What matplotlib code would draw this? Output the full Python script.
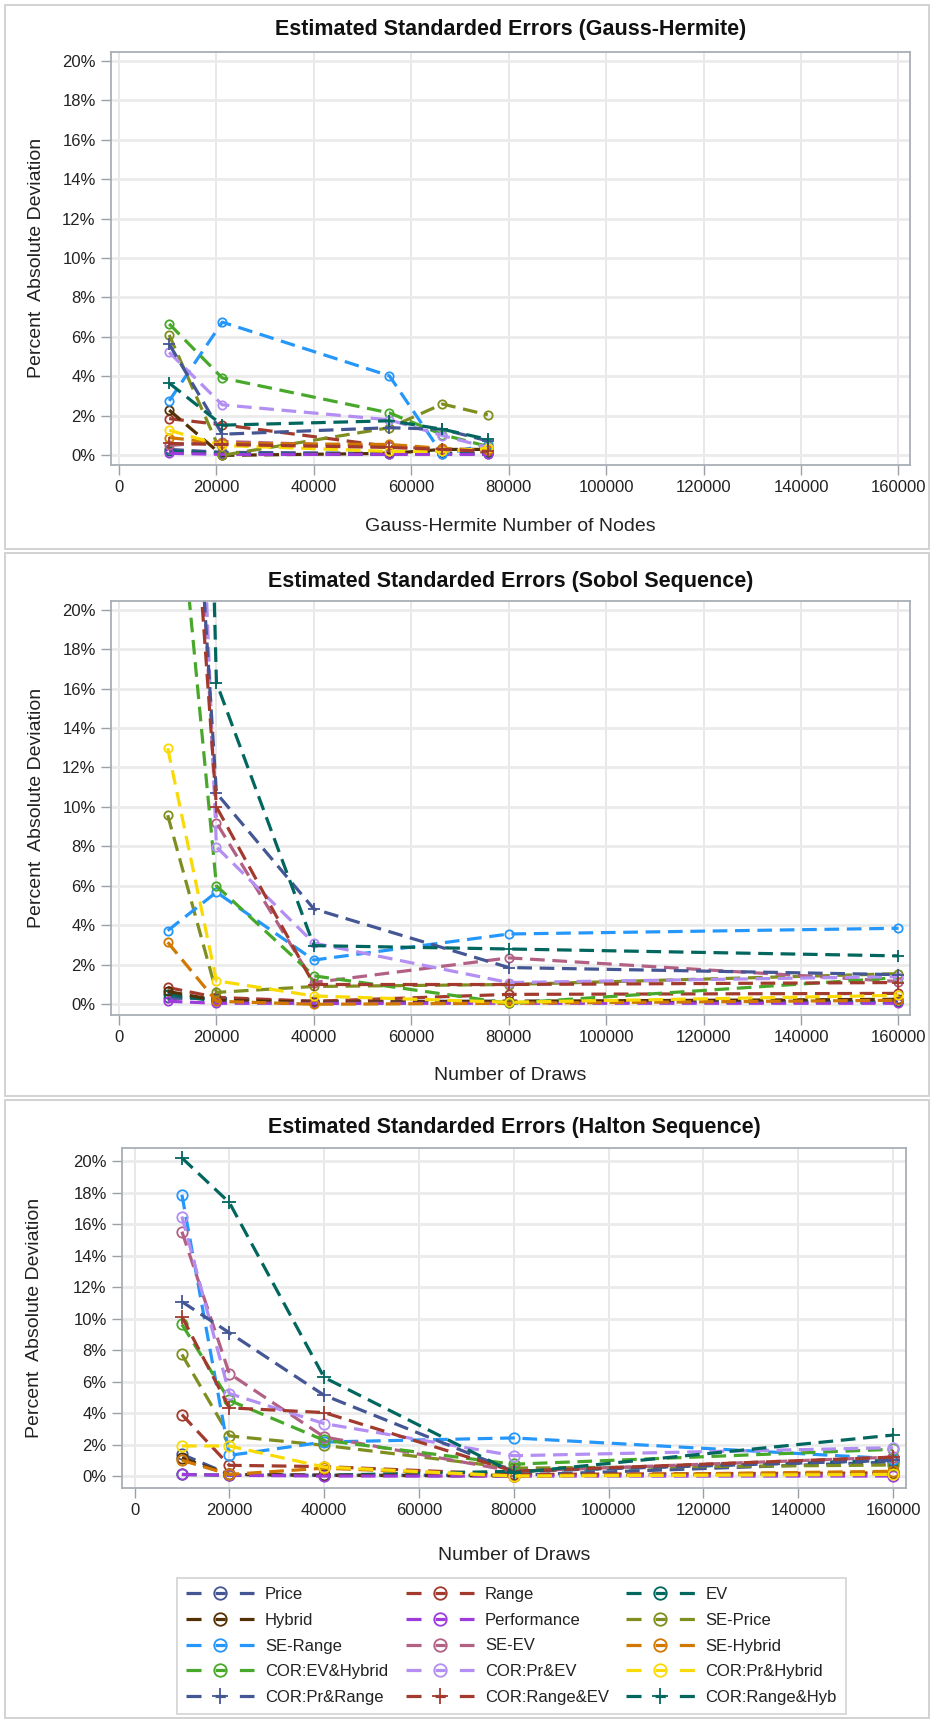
"""Estimated standarded errors for three integration methods"""

import matplotlib
matplotlib.use('Agg')
import matplotlib.pyplot as plt
from matplotlib.lines import Line2D
from matplotlib.patches import Rectangle
from matplotlib.ticker import FuncFormatter

plt.rcParams['font.family'] = ['Liberation Sans', 'DejaVu Sans']

# Series names, in the order they are drawn
series = [
    'Price', 'Range', 'EV', 'Hybrid', 'Performance',
    'SE-Price', 'SE-Range', 'SE-EV', 'SE-Hybrid',
    'COR:EV&Hybrid', 'COR:Pr&EV', 'COR:Pr&Hybrid',
    'COR:Pr&Range', 'COR:Range&EV', 'COR:Range&Hyb',
]

# Gauss-Hermite number of nodes
gh_nodes = [10300, 21200, 55500, 66400, 75700]
# Number of draws (Sobol and Halton)
draws = [10000, 20000, 40000, 80000, 160000]

# Percent absolute deviation, Gauss-Hermite
gh_values = [
    [0.30, 0.15, 0.10, 0.10, 0.05],
    [1.86, 1.55, 0.45, 0.30, 0.15],
    [0.20, 0.10, 0.05, 0.10, 0.10],
    [2.29, 0.00, 0.10, 0.30, 0.30],
    [0.10, 0.05, 0.05, 0.05, 0.05],
    [6.10, 0.00, 1.40, 2.60, 2.05],
    [2.76, 6.75, 4.03, 0.05, 0.55],
    [0.50, 0.70, 0.45, 0.30, 0.30],
    [0.90, 0.60, 0.55, 0.35, 0.25],
    [6.66, 3.92, 2.15, 1.05, 0.45],
    [5.22, 2.56, 1.80, 1.00, 0.40],
    [1.27, 0.50, 0.20, 0.20, 0.35],
    [5.64, 1.07, 1.40, 1.32, 0.73],
    [0.60, 0.55, 0.40, 0.30, 0.20],
    [3.66, 1.53, 1.75, 1.32, 0.81],
]

# Percent absolute deviation, Sobol sequence (some start far above 20%)
sobol_values = [
    [0.30, 0.30, 0.15, 0.15, 0.10],
    [0.85, 0.35, 0.15, 0.50, 0.55],
    [0.50, 0.15, 0.05, 0.10, 0.10],
    [0.65, 0.20, 0.10, 0.15, 0.25],
    [0.15, 0.05, 0.05, 0.05, 0.05],
    [9.58, 0.60, 0.90, 1.00, 1.55],
    [3.73, 5.68, 2.24, 3.56, 3.85],
    [55.0, 9.20, 1.10, 2.35, 1.15],
    [3.14, 0.15, 0.00, 0.05, 0.20],
    [32.0, 6.00, 1.44, 0.05, 1.35],
    [70.0, 7.97, 3.10, 1.10, 1.40],
    [12.97, 1.19, 0.42, 0.10, 0.45],
    [50.0, 10.7, 4.83, 1.86, 1.50],
    [45.0, 10.0, 1.00, 1.00, 1.10],
    [110.0, 16.3, 2.97, 2.80, 2.45],
]

# Percent absolute deviation, Halton sequence
halton_values = [
    [1.38, 0.10, 0.05, 0.05, 0.90],
    [3.90, 0.68, 0.60, 0.10, 0.20],
    [0.10, 0.05, 0.05, 0.30, 1.00],
    [1.15, 0.10, 0.05, 0.00, 0.20],
    [0.10, 0.05, 0.00, 0.00, 0.00],
    [7.72, 2.55, 1.95, 0.50, 0.70],
    [17.86, 1.31, 2.16, 2.42, 1.10],
    [15.52, 6.51, 2.48, 0.30, 1.20],
    [1.00, 0.10, 0.50, 0.00, 0.30],
    [9.63, 4.81, 2.27, 0.75, 1.70],
    [16.48, 5.24, 3.33, 1.29, 1.80],
    [1.91, 1.91, 0.57, 0.00, 0.10],
    [11.07, 9.10, 5.13, 0.30, 1.00],
    [10.12, 4.33, 4.03, 0.30, 1.20],
    [20.20, 17.37, 6.26, 0.20, 2.60],
]

# SAS-like data colours
base_colors = ['#445694', '#A23A2E', '#01665E', '#543005', '#9D3CDB',
               '#7F8E1F', '#2597FA', '#B26084', '#D17800', '#47A82A',
               '#B38EF3', '#F9DA04']
colors = base_colors + base_colors[:3]
markers = ['o'] * 12 + ['+'] * 3

LW = 2.3
DASH = (0, (4.6, 2.4))
FIG_W, FIG_H = 933, 1720


def fig_rect(left, top, right, bottom):
    """Pixel box (from top-left) -> figure fraction rect"""
    return [left / FIG_W, 1 - bottom / FIG_H,
            (right - left) / FIG_W, (bottom - top) / FIG_H]


def draw_panel(fig, rect, xs, values, title, xlabel, xlim, ylim,
               ms, ylabel_x, xlabel_y, title_y):
    ax = fig.add_axes(rect)
    for i, name in enumerate(series):
        ax.plot(xs, values[i], color=colors[i], lw=LW, linestyle=DASH,
                marker=markers[i], ms=ms if markers[i] == 'o' else ms + 2,
                mfc='none', mew=1.3, label=name)

    ax.set_xlim(*xlim)
    ax.set_ylim(*ylim)
    ax.set_xticks(range(0, 160001, 20000))
    ax.set_yticks(range(0, 21, 2))
    ax.xaxis.set_major_formatter(FuncFormatter(lambda v, p: f'{v:.0f}'))
    ax.yaxis.set_major_formatter(FuncFormatter(lambda v, p: f'{v:.0f}%'))
    ax.tick_params(axis='both', labelsize=12, length=7, width=1.0,
                   color='#9AA0A6', labelcolor='#222222')
    ax.tick_params(axis='x', pad=4)
    ax.tick_params(axis='y', pad=4)

    # Grid
    ax.set_axisbelow(True)
    ax.grid(axis='y', color='#EBEBEB', lw=2.0)
    ax.grid(axis='x', color='#E2E2E2', lw=1.1)
    for sp in ax.spines.values():
        sp.set_color('#A8AFB4')
        sp.set_linewidth(1.3)

    ax.set_xlabel(xlabel, fontsize=14, color='#222222')
    ax.xaxis.label.set_va('center')
    ax.xaxis.set_label_coords(0.5, xlabel_y)
    ax.set_ylabel('Percent  Absolute Deviation', fontsize=14,
                  color='#222222')
    ax.yaxis.label.set_va('center')
    ax.yaxis.set_label_coords(ylabel_x, 0.5)

    fig.text(rect[0] + rect[2] / 2, 1 - title_y / FIG_H, title,
             ha='center', va='center', fontsize=15.5, fontweight='bold',
             color='#111111')
    return ax


fig = plt.figure(figsize=(FIG_W / 100, FIG_H / 100), dpi=100)

# Outer panel borders
for top, bottom in [(5, 549), (553, 1096), (1100, 1718)]:
    fig.patches.append(Rectangle((5 / FIG_W, 1 - bottom / FIG_H),
                                 924 / FIG_W, (bottom - top) / FIG_H,
                                 transform=fig.transFigure, fill=False,
                                 edgecolor='#CFCFCF', lw=1.3))

draw_panel(fig, fig_rect(111, 51.8, 909.5, 465), gh_nodes, gh_values,
           'Estimated Standarded Errors (Gauss-Hermite)',
           'Gauss-Hermite Number of Nodes',
           (-1640, 162260), (-0.49, 20.45), 6, -0.0936, -0.150, 29)

draw_panel(fig, fig_rect(111, 600.9, 909.5, 1014.7), draws, sobol_values,
           'Estimated Standarded Errors (Sobol Sequence)',
           'Number of Draws',
           (-1640, 162260), (-0.53, 20.44), 6, -0.0936, -0.148, 581)

draw_panel(fig, fig_rect(122, 1148, 906, 1488), draws, halton_values,
           'Estimated Standarded Errors (Halton Sequence)',
           'Number of Draws',
           (-2637, 162742), (-0.76, 20.83), 7.5, -0.111, -0.200, 1127)

# Legend: SAS lays it out row by row, matplotlib fills columns
handles = []
for i, name in enumerate(series):
    handles.append(Line2D([], [], color=colors[i], lw=LW,
                          linestyle=(0, (4.7, 4.4, 3.2, 4.4, 4.7)),
                          marker=markers[i],
                          ms=9 if markers[i] == 'o' else 11,
                          mfc='none', mew=1.3, label=name))
order = [i for c in range(3) for i in range(c, 15, 3)]
leg = fig.legend([handles[i] for i in order], [series[i] for i in order],
                 loc='upper left', bbox_to_anchor=(176.7 / FIG_W,
                                                   1 - 1578 / FIG_H),
                 ncol=3, fontsize=12, frameon=True, fancybox=False,
                 edgecolor='#C8C8C8', borderaxespad=0, borderpad=0.55,
                 handlelength=4.1, handletextpad=0.65, columnspacing=1.05,
                 labelspacing=0.64, numpoints=1)
leg.get_frame().set_linewidth(1.2)
for t in leg.get_texts():
    t.set_color('#222222')

fig.savefig('out.png', dpi=100)
plt.close(fig)
